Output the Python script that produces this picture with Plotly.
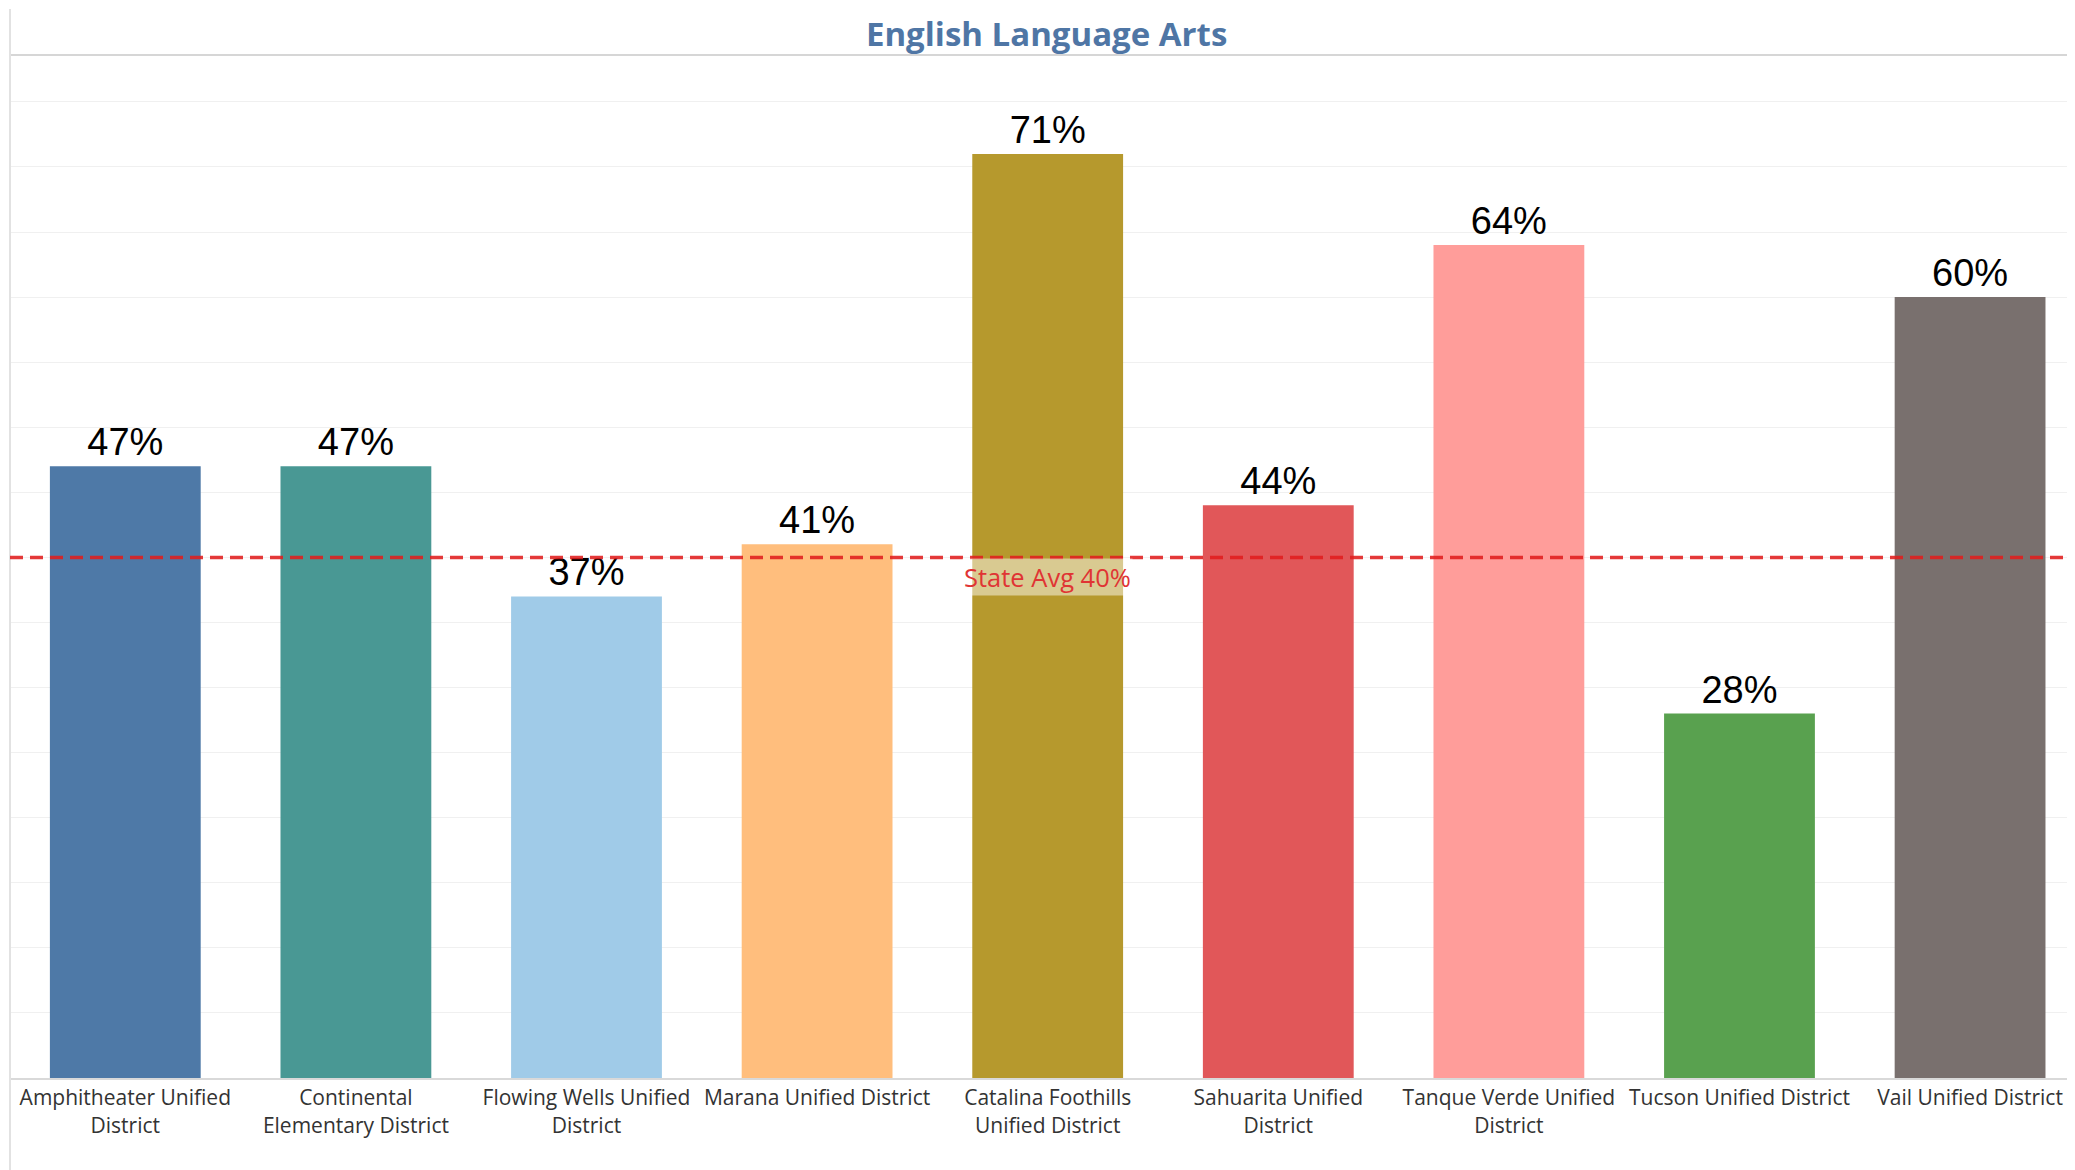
import plotly.graph_objects as go

districts = [
    "Amphitheater Unified District",
    "Continental Elementary District",
    "Flowing Wells Unified District",
    "Marana Unified District",
    "Catalina Foothills Unified District",
    "Sahuarita Unified District",
    "Tanque Verde Unified District",
    "Tucson Unified District",
    "Vail Unified District",
]
tick_labels = [
    "Amphitheater Unified<br>District",
    "Continental<br>Elementary District",
    "Flowing Wells Unified<br>District",
    "Marana Unified District",
    "Catalina Foothills<br>Unified District",
    "Sahuarita Unified<br>District",
    "Tanque Verde Unified<br>District",
    "Tucson Unified District",
    "Vail Unified District",
]
ela_pass_rate = [0.47, 0.47, 0.37, 0.41, 0.71, 0.44, 0.64, 0.28, 0.60]
bar_colors = ["#4E79A7", "#499894", "#A0CBE8", "#FFBE7D", "#B6992D",
              "#E15759", "#FF9D9A", "#59A14F", "#79706E"]
state_avg = 0.40
state_avg_label = "State Avg 40%"
title_text = "English Language Arts"

x_idx = list(range(len(districts)))

W, H = 2067, 1162

fig = go.Figure()
fig.add_trace(go.Bar(
    x=x_idx,
    y=ela_pass_rate,
    marker=dict(color=bar_colors, line=dict(width=0)),
    text=[f"{v:.0%}" for v in ela_pass_rate],
    textposition="outside",
    textfont=dict(family="Liberation Sans, Arial", size=38, color="#000000"),
    cliponaxis=False,
    hovertext=districts,
    showlegend=False,
))

# top border line
fig.add_shape(type="line", xref="paper", yref="paper", x0=0, x1=1, y0=1, y1=1,
              line=dict(color="#d6d6d6", width=2), layer="above")
# left border line
fig.add_shape(type="line", xref="paper", yref="paper", x0=0, x1=0, y0=-0.1, y1=1.045,
              line=dict(color="#e2e2e2", width=2), layer="above")
# state average line
fig.add_shape(type="line", xref="paper", yref="y", x0=0, x1=1, y0=state_avg, y1=state_avg,
              line=dict(color="rgba(224,30,30,0.88)", width=3.5, dash="13px,7px"),
              layer="above")
fig.add_annotation(x=4, y=state_avg, xref="x", yref="y", text=state_avg_label,
                   showarrow=False, yanchor="top", yshift=-1,
                   font=dict(family="Open Sans", size=25.5, color="#e03434"),
                   bgcolor="rgba(255,255,255,0.48)", borderpad=1)

fig.update_layout(
    width=W, height=H,
    margin=dict(l=2, r=0, t=47, b=92),
    paper_bgcolor="white", plot_bgcolor="white",
    bargap=0.346,
    title=dict(text=f"<b>{title_text}</b>", x=0.502, xref="paper", xanchor="center",
               y=1 - 26 / H, yref="container", yanchor="middle",
               font=dict(family="Open Sans", size=33, color="#4f76a5")),
    xaxis=dict(
        tickmode="array", tickvals=x_idx, ticktext=tick_labels,
        range=[-0.5, 8.455], showgrid=False, zeroline=False,
        showline=True, linecolor="#d9d9d9", linewidth=2,
        ticks="", tickfont=dict(family="Open Sans", size=21, color="#333333"),
    ),
    yaxis=dict(
        range=[0, 0.786], dtick=0.05, showgrid=True, gridcolor="#f0f0f0", gridwidth=1,
        zeroline=False, showticklabels=False, ticks="", showline=False,
    ),
)

fig.write_html("out.html")
